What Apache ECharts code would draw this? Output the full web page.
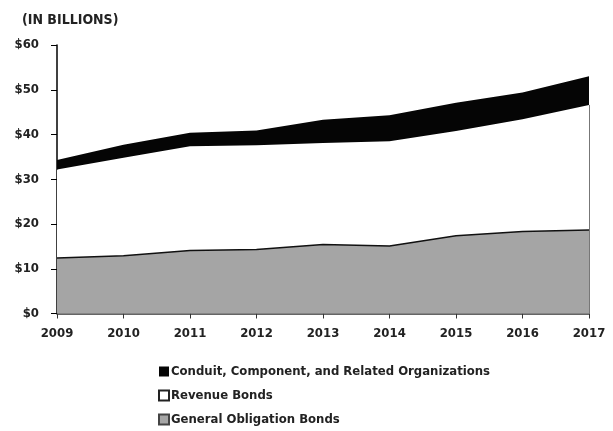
<!DOCTYPE html>
<html><head><meta charset="utf-8">
<script src="https://cdn.jsdelivr.net/npm/echarts@6/dist/echarts.min.js"></script>
<style>html,body{margin:0;padding:0;background:#fff}#c{width:613px;height:431px}</style>
</head><body><div id="c"></div>
<script>
var categories = ['2009','2010','2011','2012','2013','2014','2015','2016','2017'];
var generalObligation = [12.4, 12.9, 14.1, 14.3, 15.4, 15.1, 17.4, 18.3, 18.65];
var revenueBonds = [19.8, 21.9, 23.3, 23.3, 22.7, 23.4, 23.4, 25.1, 27.95];
var conduit = [2.1, 2.9, 3.0, 3.3, 5.2, 5.8, 6.3, 6.0, 6.4];
var yTicks = [0, 10, 20, 30, 40, 50, 60];
var names = ['Conduit, Component, and Related Organizations','Revenue Bonds','General Obligation Bonds'];

var FONT = "'DejaVu Sans Condensed', 'Liberation Sans Narrow', sans-serif";
var TXT = '#222';
var lastIdx = categories.length - 1;
var midLast = generalObligation[lastIdx] + revenueBonds[lastIdx];

var chart = echarts.init(document.getElementById('c'), null, {renderer:'canvas'});
chart.setOption({
  animation: false,
  backgroundColor: '#fff',
  title: {text: '(IN BILLIONS)', left: 17, top: 8,
    textStyle: {fontFamily: FONT, fontSize: 14, fontWeight: 'bold', color: TXT}},
  grid: {left: 57, right: 24, top: 45, bottom: 117.5},
  legend: {
    orient: 'vertical', left: 153, top: 360, itemGap: 11,
    itemWidth: 10, itemHeight: 10, icon: 'rect',
    data: names,
    textStyle: {fontFamily: FONT, fontSize: 13, fontWeight: 'bold', color: TXT, padding: [0,0,0,-3]}
  },
  xAxis: {
    type: 'category', data: categories, boundaryGap: false,
    axisLine: {lineStyle: {color: '#333', width: 1.5}},
    axisTick: {show: true, length: 5, lineStyle: {color: '#333'}},
    axisLabel: {fontFamily: FONT, fontSize: 13, fontWeight: 'bold', color: TXT, margin: 14},
    splitLine: {show: false}
  },
  yAxis: {
    type: 'value', min: yTicks[0], max: yTicks[yTicks.length-1], interval: 10,
    axisLine: {show: true, lineStyle: {color: '#000', width: 1.5}},
    axisTick: {show: true, length: 6, lineStyle: {color: '#000'}},
    axisLabel: {fontFamily: FONT, fontSize: 13, fontWeight: 'bold', color: TXT, margin: 18,
      formatter: function(v){return '$' + v;}},
    splitLine: {show: false}
  },
  series: [
    {name: names[2], type: 'line', stack: 'all', data: generalObligation, symbol: 'none',
      lineStyle: {color: '#111', width: 1.5}, itemStyle: {color: '#a5a5a5', borderColor: '#444', borderWidth: 1},
      areaStyle: {color: '#a5a5a5', opacity: 1}, z: 3},
    {name: names[1], type: 'line', stack: 'all', data: revenueBonds, symbol: 'none',
      lineStyle: {width: 0}, itemStyle: {color: '#fff', borderColor: '#222', borderWidth: 1},
      areaStyle: {color: '#fff', opacity: 1}, z: 2,
      markLine: {symbol: 'none', silent: true, label: {show: false},
        lineStyle: {color: '#777', width: 1, type: 'solid'},
        data: [[{coord: [categories[lastIdx], 0]}, {coord: [categories[lastIdx], midLast]}]]}},
    {name: names[0], type: 'line', stack: 'all', data: conduit, symbol: 'none',
      lineStyle: {width: 0}, itemStyle: {color: '#050505'},
      areaStyle: {color: '#050505', opacity: 1}, z: 2}
  ]
});
</script></body></html>
